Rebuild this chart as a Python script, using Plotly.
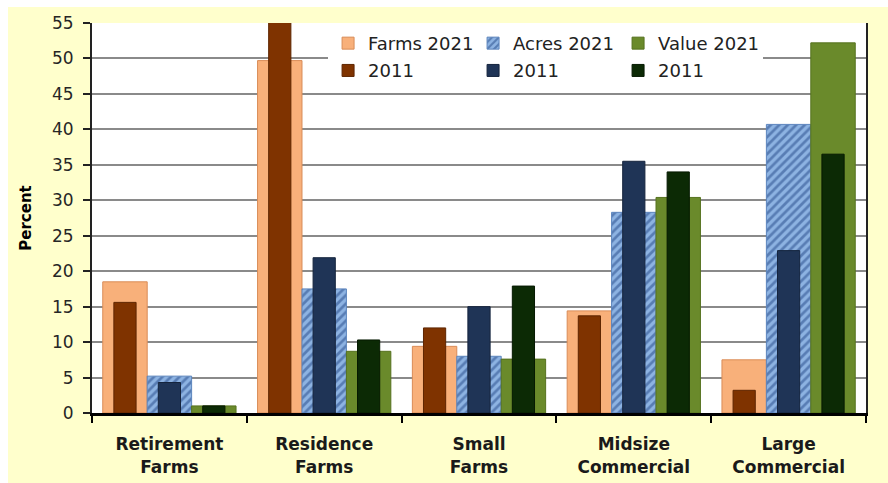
import plotly.graph_objects as go

categories = ["Retirement<br>Farms", "Residence<br>Farms", "Small<br>Farms",
              "Midsize<br>Commercial", "Large<br>Commercial"]

farms_2021 = [18.5, 49.7, 9.4, 14.4, 7.5]
acres_2021 = [5.2, 17.5, 8.0, 28.3, 40.7]
value_2021 = [1.0, 8.7, 7.6, 30.4, 52.2]
farms_2011 = [15.6, 55.8, 12.0, 13.7, 3.2]
acres_2011 = [4.3, 21.9, 15.0, 35.5, 22.9]
value_2011 = [1.0, 10.3, 17.9, 34.0, 36.5]

series_2021 = [
    ("Farms 2021", farms_2021, "#F8B07A", "#D98C58", None),
    ("Acres 2021", acres_2021, "#8DB3E2", "#5C85BD", "/"),
    ("Value 2021", value_2021, "#6A8A2B", "#56721F", None),
]
series_2011 = [
    ("2011", farms_2011, "#7F3300", "#5E2500"),
    ("2011", acres_2011, "#1F3456", "#15243D"),
    ("2011", value_2011, "#0C2A05", "#061A02"),
]

W = 0.287
offsets_2021 = [-1.5 * W, -0.5 * W, 0.5 * W]
centers = [-W, 0.0, W]

fig = go.Figure()
for (name, vals, col, lcol, pat), off in zip(series_2021, offsets_2021):
    marker = dict(color=col, line=dict(color=lcol, width=1))
    if pat:
        marker["pattern"] = dict(shape=pat, fgcolor="#234785", bgcolor=col,
                                 size=6, solidity=0.45, fillmode="overlay")
    fig.add_trace(go.Bar(x=categories, y=vals, name=name, width=W, offset=off,
                         marker=marker, legend="legend"))
for (name, vals, col, lcol), c in zip(series_2011, centers):
    fig.add_trace(go.Bar(x=categories, y=vals, name=name, width=W / 2,
                         offset=c - W / 4,
                         marker=dict(color=col, line=dict(color=lcol, width=1)),
                         legend="legend2"))

legend_common = dict(orientation="h", bgcolor="white", entrywidth=100,
                     entrywidthmode="pixels", xanchor="left", yanchor="top",
                     font=dict(family="DejaVu Sans", size=18, color="#222222"),
                     itemclick=False, traceorder="normal", tracegroupgap=0)

fig.update_layout(
    width=888, height=483,
    margin=dict(l=92, r=22, t=23, b=70),
    paper_bgcolor="#FFFFCC",
    plot_bgcolor="white",
    barmode="overlay",
    showlegend=True,
    legend=dict(x=0.305, y=0.995, **legend_common),
    legend2=dict(x=0.305, y=0.925, **legend_common),
    xaxis=dict(
        automargin=False,
        showline=True, linecolor="black", linewidth=3,
        ticks="outside", tickson="boundaries", ticklen=7, tickwidth=2,
        tickcolor="black", showgrid=False,
        ticklabelstandoff=14,
        tickfont=dict(family="DejaVu Sans", size=17, color="#1A1A1A",
                      weight="bold"),
    ),
    yaxis=dict(
        automargin=False,
        range=[0, 55], dtick=5, tick0=0,
        showline=True, linecolor="#222222", linewidth=2, mirror=True,
        ticks="outside", ticklen=7, tickwidth=2, tickcolor="#222222",
        showgrid=True, gridcolor="#8A8A8A", gridwidth=2,
        zeroline=False,
        tickfont=dict(family="DejaVu Sans", size=17, color="#262626"),
        ticklabelstandoff=6,
        title=dict(text="<b>Percent</b>", standoff=17,
                   font=dict(family="DejaVu Sans", size=15, color="black")),
    ),
    shapes=[
        dict(type="rect", xref="paper", yref="paper", xsizemode="pixel",
             xanchor=0, x0=-92, x1=-84, y0=-1, y1=2,
             fillcolor="white", line=dict(width=0), layer="below"),
        dict(type="rect", xref="paper", yref="paper", ysizemode="pixel",
             yanchor=1, y0=16, y1=23, x0=-1, x1=2,
             fillcolor="white", line=dict(width=0), layer="below"),
    ],
)

fig.write_html("out.html")
